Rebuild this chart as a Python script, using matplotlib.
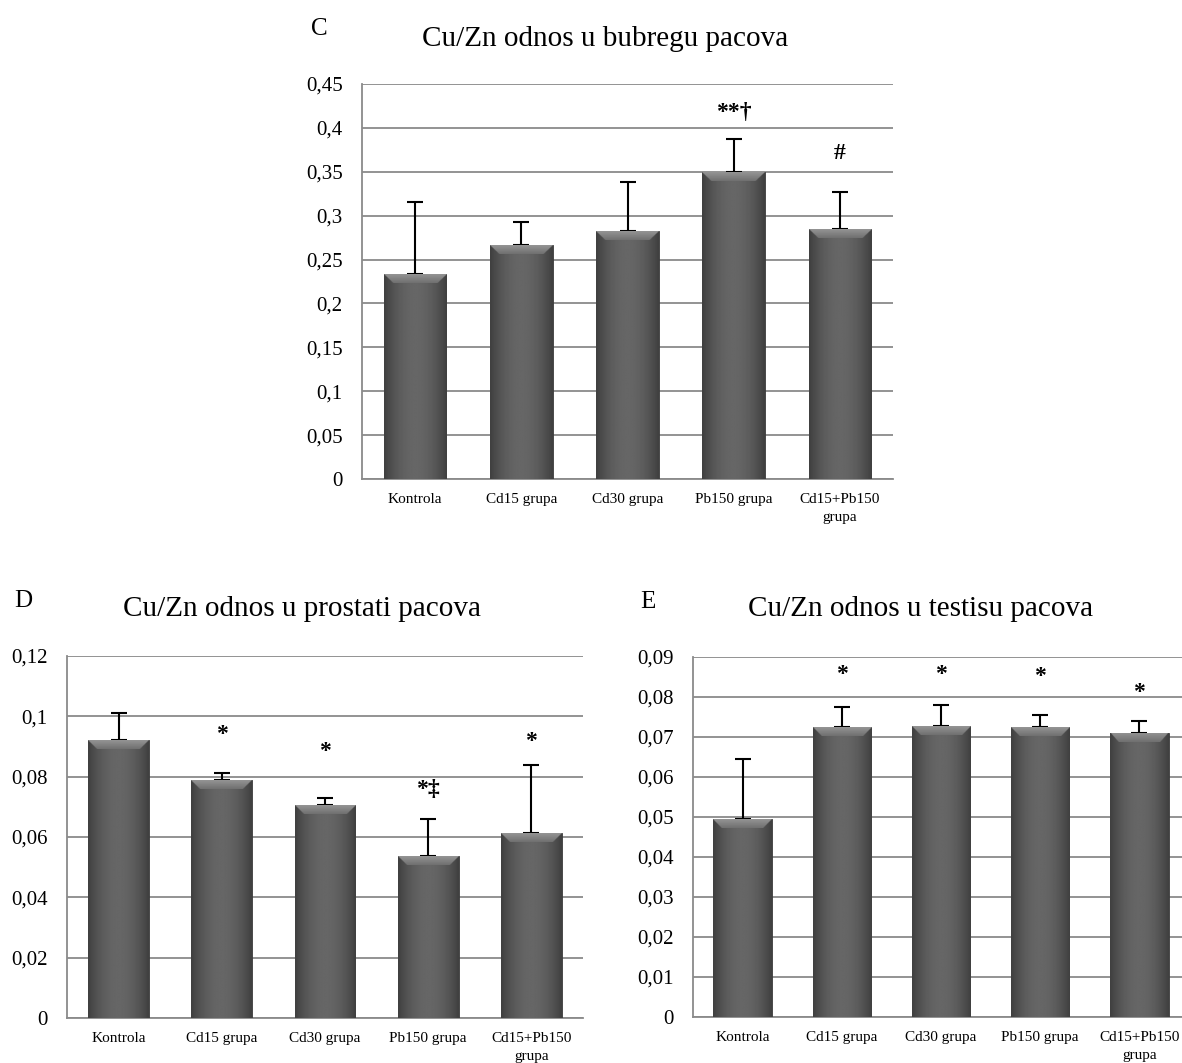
import numpy as np
import matplotlib
matplotlib.use("Agg")
import matplotlib.pyplot as plt
from matplotlib.ticker import FuncFormatter, MultipleLocator
from matplotlib.transforms import offset_copy

plt.rcParams['font.family'] = ['Liberation Serif', 'DejaVu Serif']

groups = ["Kontrola", "Cd15 grupa", "Cd30 grupa", "Pb150 grupa", "Cd15+Pb150\ngrupa"]

# panel C - bubreg (kidney)
kidneyMean = [0.2335, 0.2668, 0.2830, 0.3503, 0.2853]
kidneySD = [0.0825, 0.0255, 0.0549, 0.0367, 0.0414]
kidneyMarks = ["", "", "", "**†", "#"]
kidneyMarkY = [0, 0, 0, 0.423, 0.377]

# panel D - prostata
prostateMean = [0.0921, 0.0789, 0.0705, 0.0537, 0.0613]
prostateSD = [0.0089, 0.0022, 0.0024, 0.0124, 0.0225]
prostateMarks = ["", "*", "*", "*‡", "*"]
prostateMarkY = [0, 0.0956, 0.0901, 0.0773, 0.0934]

# panel E - testis
testisMean = [0.0494, 0.0725, 0.0728, 0.0725, 0.0710]
testisSD = [0.0150, 0.0051, 0.0052, 0.0029, 0.0029]
testisMarks = ["", "*", "*", "*", "*"]
testisMarkY = [0, 0.0868, 0.0868, 0.0865, 0.0825]

W, H = 1182, 1063
fig = plt.figure(figsize=(W / 100, H / 100), dpi=100)


def axesAt(left, top, right, bottom):
    # pixel box -> figure fraction
    return fig.add_axes([left / W, 1 - bottom / H, (right - left) / W, (bottom - top) / H])


def commaFmt(v, pos):
    return ("%g" % round(v, 4)).replace(".", ",")


def shadeBars(ax, bars, pxPerUnit):
    prof = np.linspace(-1, 1, 80)
    base = 0.40 - 0.15 * prof ** 2
    for b in bars:
        x0, w, h = b.get_x(), b.get_width(), b.get_height()
        im = ax.imshow(np.tile(base, (2, 1)), cmap="gray", vmin=0, vmax=1,
                       extent=[x0, x0 + w, 0, h], aspect="auto", zorder=3,
                       interpolation="bilinear")
        im.set_clip_path(b)
        # lighter bevel on top of the bar
        bh = 9 / pxPerUnit
        n = 24
        fy = np.linspace(0, 1, n)[:, None]
        fx = np.linspace(0, 1, 80)[None, :]
        ins = 0.14
        light = (fx >= fy * ins) & (fx <= 1 - fy * ins)
        top = np.where(light, 0.58 - 0.14 * fy, np.tile(base, (n, 1)))
        im2 = ax.imshow(top, cmap="gray", vmin=0, vmax=1,
                        extent=[x0, x0 + w, h - bh, h], aspect="auto", zorder=3.1,
                        interpolation="bilinear")
        im2.set_clip_path(b)


def drawPanel(ax, means, sds, ymax, step, marks, markY):
    x = np.arange(len(groups))
    ax.set_axisbelow(True)
    ax.yaxis.grid(True, color="#8a8a8a", linewidth=1.3)
    bars = ax.bar(x, means, width=0.59, color="#5a5a5a", edgecolor="#3a3a3a",
                  linewidth=0.6, zorder=3)
    ax.errorbar(x, means, yerr=[np.zeros(len(x)), sds], fmt="none", ecolor="black",
                elinewidth=1.5, capsize=6, capthick=1.5, zorder=2.5)
    ax.set_xlim(-0.5, len(groups) - 0.5)
    ax.set_ylim(0, ymax)
    pos = ax.get_position()
    shadeBars(ax, bars, pos.height * H / ymax)
    ax.set_xlim(-0.5, len(groups) - 0.5)
    ax.set_ylim(0, ymax)
    ax.yaxis.set_major_locator(MultipleLocator(step))
    ax.yaxis.set_major_formatter(FuncFormatter(commaFmt))
    ax.set_xticks(x)
    ax.set_xticklabels(groups, fontsize=11, linespacing=1.5)
    ax.tick_params(axis="x", length=0, pad=10)
    ax.tick_params(axis="y", length=0, pad=14, labelsize=15)
    for s in ["top", "right"]:
        ax.spines[s].set_visible(False)
    for s in ["left", "bottom"]:
        ax.spines[s].set_color("#8a8a8a")
        ax.spines[s].set_linewidth(1.3)
    # asterisk glyphs sit high, nudge them down a bit
    tr = offset_copy(ax.transData, fig=fig, y=-5, units="dots")
    for i, m in enumerate(marks):
        if m:
            ax.text(x[i], markY[i], m, ha="center", va="center", fontsize=17,
                    fontweight="bold", transform=tr, zorder=5)


axC = axesAt(362, 84, 893, 479)
drawPanel(axC, kidneyMean, kidneySD, 0.45, 0.05, kidneyMarks, kidneyMarkY)

axD = axesAt(67, 656, 583, 1018)
drawPanel(axD, prostateMean, prostateSD, 0.12, 0.02, prostateMarks, prostateMarkY)

axE = axesAt(693, 657, 1189, 1017)
drawPanel(axE, testisMean, testisSD, 0.09, 0.01, testisMarks, testisMarkY)

fig.text(311 / W, 1 - 35 / H, "C", fontsize=18, va="baseline")
fig.text(422 / W, 1 - 46 / H, "Cu/Zn odnos u bubregu pacova", fontsize=21, va="baseline")
fig.text(14 / W, 1 - 607 / H, "D", fontsize=18, va="baseline")
fig.text(123 / W, 1 - 616 / H, "Cu/Zn odnos u prostati pacova", fontsize=21, va="baseline")
fig.text(640 / W, 1 - 608 / H, "E", fontsize=18, va="baseline")
fig.text(748 / W, 1 - 616 / H, "Cu/Zn odnos u testisu pacova", fontsize=21, va="baseline")

fig.savefig("out.png", dpi=100)
